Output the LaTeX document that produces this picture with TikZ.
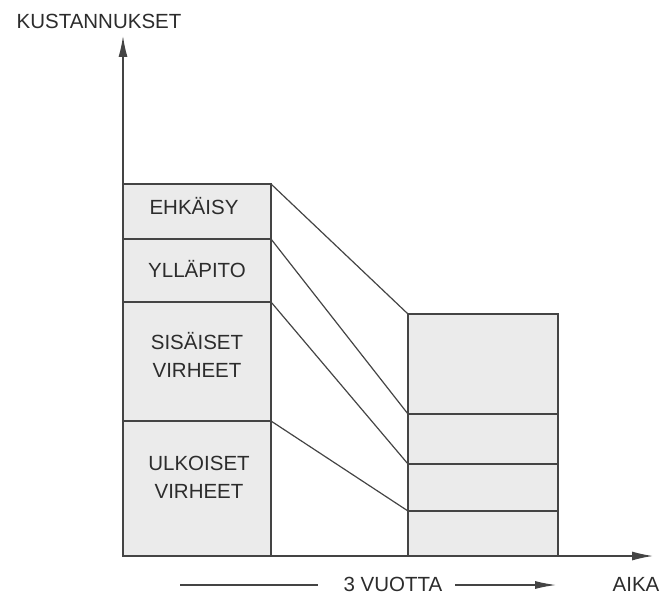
\documentclass[tikz,border=0pt]{standalone}
\usepackage{fontspec}
\setmainfont{Liberation Sans}
\usetikzlibrary{arrows.meta}
\definecolor{inkc}{HTML}{444444}
\definecolor{txtc}{HTML}{2C2C2C}
\definecolor{barfill}{HTML}{EBEBEB}
\begin{document}
\begin{tikzpicture}[x=1pt,y=-1pt,
  lbl/.style={text=txtc,font=\fontsize{20.5}{28}\selectfont,inner sep=0pt,align=center},
  block/.style={draw=inkc,fill=barfill,line width=1.3pt,rectangle,inner sep=0pt,outer sep=0pt,anchor=north west},
  link/.style={draw=inkc,line width=1.2pt},
  axis/.style={draw=inkc,line width=1.3pt,-{Latex[length=21pt,width=9pt]}}]
\useasboundingbox (0,0) rectangle (660,599);

% cost blocks before
\node[block,minimum width=148pt,minimum height=55pt]  (ehk) at (123,184) {};
\node[block,minimum width=148pt,minimum height=63pt]  (yll) at (123,239) {};
\node[block,minimum width=148pt,minimum height=119pt] (sis) at (123,302) {};
\node[block,minimum width=148pt,minimum height=135pt] (ulk) at (123,421) {};

% cost blocks after
\node[block,minimum width=150pt,minimum height=100pt] (r1) at (408,314) {};
\node[block,minimum width=150pt,minimum height=50pt]  (r2) at (408,414) {};
\node[block,minimum width=150pt,minimum height=47pt]  (r3) at (408,464) {};
\node[block,minimum width=150pt,minimum height=45pt]  (r4) at (408,511) {};

% block labels
\node[lbl] (tehk) at (194,206) {EHKÄISY};
\node[lbl] (tyll) at (197,269) {YLLÄPITO};
\node[lbl] (tsis) at (197,355) {SISÄISET\\VIRHEET};
\node[lbl] (tulk) at (199,477) {ULKOISET\\VIRHEET};

% connecting lines
\draw[link] (ehk.north east) -- (r1.north west);
\draw[link] (yll.north east) -- (r2.north west);
\draw[link] (sis.north east) -- (r3.north west);
\draw[link] (ulk.north east) -- (r4.north west);

% axes
\coordinate (o) at (123,556);
\coordinate (ytop) at (123,36);
\coordinate (xend) at (653,556);
\draw[axis] (o) -- (ytop);
\draw[axis] (o) -- (xend);
\node[lbl] (ylab) at (99,21) {KUSTANNUKSET};
\node[lbl] (xlab) at (636,584) {AIKA};

% time span
\node[lbl] (span) at (393,584) {3 VUOTTA};
\coordinate (s1) at (180,585);
\coordinate (s2) at (318,585);
\coordinate (s3) at (455,585);
\coordinate (s4) at (556,585);
\draw[link] (s1) -- (s2);
\draw[link,-{Latex[length=21pt,width=8pt]}] (s3) -- (s4);
\end{tikzpicture}
\end{document}
